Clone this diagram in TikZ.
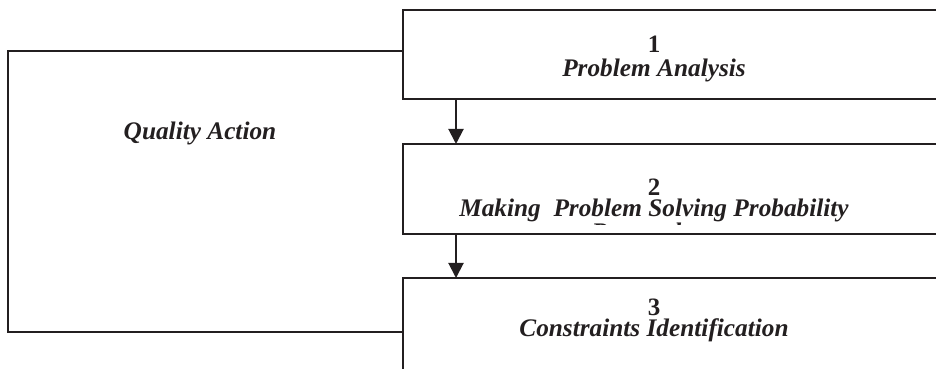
\documentclass[tikz,border=0pt]{standalone}
\usepackage{fontspec}
\setmainfont{Liberation Serif}
\usetikzlibrary{arrows.meta}
\definecolor{ink}{HTML}{231F20}
\tikzset{
  stagebox/.style={draw=ink, line width=2pt, fill=none, inner sep=0pt, outer sep=0pt, anchor=north west},
  numlabel/.style={font=\fontsize{25}{28}\selectfont\bfseries, text=ink, anchor=base, inner sep=0pt},
  namelabel/.style={font=\fontsize{25.3}{28}\selectfont\bfseries\itshape, text=ink, anchor=base, inner sep=0pt},
  flow/.style={draw=ink, line width=2pt, -{Triangle[width=15pt,length=15pt]}},
  loopline/.style={draw=ink, line width=2pt}
}
\begin{document}
\begin{tikzpicture}[x=1pt,y=1pt]
  \useasboundingbox (0,0) rectangle (936,369);
  \clip (0,0) rectangle (936,369);

  % the three stages, running on past the right and bottom edges
  \node[stagebox, minimum width=580pt, minimum height=89pt] (b1) at (403,359) {};
  \node[stagebox, minimum width=580pt, minimum height=90pt] (b2) at (403,225) {};
  \node[stagebox, minimum width=580pt, minimum height=140pt] (b3) at (403,91) {};

  % stage labels
  \node[numlabel]  (n1) at (654,316.5) {1};
  \node[namelabel] (t1) at (654,292) {Problem Analysis};
  \node[numlabel]  (n2) at (654,173.5) {2};
  \node[namelabel] (t2) at (654,152) {Making\ \ Problem Solving Probability};
  % the last line of stage 2 is cut off by its text frame
  \begin{scope}
    \clip (403,144) rectangle (936,160);
    \node[namelabel] (t2b) at (640,128) {Research};
  \end{scope}
  \node[numlabel]  (n3) at (654,53.5) {3};
  \node[namelabel] (t3) at (654,32) {Constraints Identification};

  % downward flow between stages
  \coordinate (a1) at (456,0 |- b1.south);
  \coordinate (a2) at (456,0 |- b2.north);
  \coordinate (a3) at (456,0 |- b2.south);
  \coordinate (a4) at (456,0 |- b3.north);
  \draw[flow] (a1) -- (a2);
  \draw[flow] (a3) -- (a4);

  % quality action feedback loop on the left
  \coordinate (q1) at (b1.west |- 0,318);
  \coordinate (q2) at (8,318);
  \coordinate (q3) at (8,37);
  \coordinate (q4) at (b3.west |- 0,37);
  \draw[loopline] (q1) -- (q2) -- (q3) -- (q4);
  \node[namelabel] (qa) at (200,229) {Quality Action};
\end{tikzpicture}
\end{document}
